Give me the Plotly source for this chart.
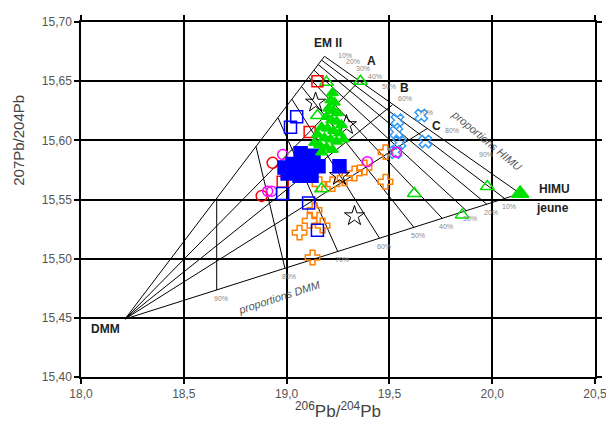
import plotly.graph_objects as go

# ---------------- axes ----------------
x_ticks = [18.0, 18.5, 19.0, 19.5, 20.0, 20.5]
x_ticktext = ["18,0", "18,5", "19,0", "19,5", "20,0", "20,5"]
y_ticks = [15.40, 15.45, 15.50, 15.55, 15.60, 15.65, 15.70]
y_ticktext = ["15,40", "15,45", "15,50", "15,55", "15,60", "15,65", "15,70"]

# ---------------- end members ----------------
em_x = [18.214, 19.184, 20.136]   # DMM, EM II, HIMU jeune
em_y = [15.449, 15.671, 15.555]

# lines of constant DMM proportion (10% .. 90%)
dmm_pct = ["10%", "20%", "30%", "40%", "50%", "60%", "70%", "80%", "90%"]
dmm_left_x = [19.170, 19.154, 19.133, 19.107, 19.073, 19.026, 18.958, 18.851, 18.660]
dmm_left_y = [15.6678, 15.6640, 15.6593, 15.6533, 15.6454, 15.6347, 15.6192, 15.5948, 15.5511]
dmm_bot_x = [20.061, 19.974, 19.874, 19.757, 19.619, 19.452, 19.249, 18.992, 18.660]
dmm_bot_y = [15.5508, 15.5460, 15.5406, 15.5341, 15.5265, 15.5173, 15.5060, 15.4918, 15.4735]

# HIMU proportion marks on EM II - HIMU binary
himu_pct = ["10%", "20%", "30%", "40%", "50%", "60%", "70%", "80%", "90%"]
himu_x = [19.220, 19.262, 19.310, 19.367, 19.434, 19.515, 19.616, 19.743, 19.908]
himu_y = [15.6666, 15.6615, 15.6557, 15.6488, 15.6406, 15.6307, 15.6185, 15.6030, 15.5827]

# mixtures A, B, C (end of DMM mixing lines) and their label positions
abc_names = ["A", "B", "C"]
abc_x = [19.354, 19.515, 19.684]
abc_y = [15.650, 15.630, 15.610]
abc_lab_x = [19.413, 19.573, 19.728]
abc_lab_y = [15.667, 15.644, 15.612]

# ---------------- samples ----------------
green_fill_x = [19.223, 19.214, 19.233, 19.204, 19.228, 19.248, 19.194, 19.218, 19.243, 19.267,
                19.170, 19.199, 19.228, 19.257, 19.150, 19.184, 19.214, 19.243, 19.277, 19.160,
                19.194, 19.223, 19.170, 19.136]
green_fill_y = [15.640, 15.634, 15.632, 15.627, 15.625, 15.623, 15.620, 15.617, 15.616, 15.613,
                15.611, 15.610, 15.608, 15.606, 15.605, 15.602, 15.601, 15.599, 15.601, 15.596,
                15.594, 15.592, 15.590, 15.598]
green_open_x = [19.194, 19.359, 19.150, 19.170, 19.621, 19.976, 19.854]
green_open_y = [15.649, 15.650, 15.621, 15.559, 15.555, 15.561, 15.537]

blue_fill_x = [19.068, 19.131, 19.029, 19.092, 19.155, 19.005, 19.063, 19.121, 19.257, 18.990]
blue_fill_y = [15.589, 15.587, 15.580, 15.578, 15.578, 15.572, 15.570, 15.570, 15.578, 15.577]
blue_open_x = [19.049, 19.019, 18.981, 19.107, 19.150]
blue_open_y = [15.620, 15.611, 15.555, 15.547, 15.524]

red_sq_x = [19.150, 19.112, 18.981]
red_sq_y = [15.650, 15.607, 15.565]
red_circ_x = [18.932, 18.879]
red_circ_y = [15.581, 15.553]

magenta_x = [18.981, 19.393, 18.908, 19.534, 18.927]
magenta_y = [15.588, 15.582, 15.557, 15.590, 15.557]

orange_x = [19.160, 19.223, 19.282, 19.330, 19.379, 19.481, 19.481, 19.136, 19.112, 19.175, 19.063, 19.126]
orange_y = [15.563, 15.563, 15.568, 15.572, 15.577, 15.590, 15.565, 15.541, 15.532, 15.528, 15.522, 15.501]

lightblue_x = [19.539, 19.534, 19.549, 19.529, 19.655, 19.675]
lightblue_y = [15.617, 15.607, 15.598, 15.590, 15.621, 15.599]

star_x = [19.141, 19.291, 19.330, 19.257]
star_y = [15.632, 15.613, 15.536, 15.570]

fig = go.Figure()

# triangle edges + DMM-to-ABC lines + constant-DMM lines
seg_x, seg_y = [], []
for i, j in [(0, 1), (1, 2), (0, 2)]:
    seg_x += [em_x[i], em_x[j], None]
    seg_y += [em_y[i], em_y[j], None]
for k in range(len(abc_x)):
    seg_x += [em_x[0], abc_x[k], None]
    seg_y += [em_y[0], abc_y[k], None]
for k in range(len(dmm_left_x)):
    seg_x += [dmm_left_x[k], dmm_bot_x[k], None]
    seg_y += [dmm_left_y[k], dmm_bot_y[k], None]
fig.add_trace(go.Scatter(x=seg_x, y=seg_y, mode="lines",
                         line=dict(color="black", width=1), hoverinfo="skip"))

def pts(x, y, symbol, color, size, width=1.5):
    fig.add_trace(go.Scatter(x=x, y=y, mode="markers",
                             marker=dict(symbol=symbol, size=size, color=color,
                                         line=dict(color=color, width=width))))

pts(orange_x, orange_y, "cross-open", "#FF7F00", 12)
pts(lightblue_x, lightblue_y, "x-open", "#2E9CFF", 11)
pts(green_open_x, green_open_y, "triangle-up-open", "#00E000", 12)
pts(star_x, star_y, "star-open", "black", 15, 1)
pts(red_sq_x, red_sq_y, "square-open", "#FF0000", 11)
pts(red_circ_x, red_circ_y, "circle-open", "#FF0000", 11)
pts(magenta_x, magenta_y, "circle-open", "#FF00FF", 10)
pts(blue_open_x, blue_open_y, "square-open", "#0000FF", 12)
pts(blue_fill_x, blue_fill_y, "square", "#0000FF", 13)
pts(green_fill_x, green_fill_y, "triangle-up", "#00E000", 10)
pts([em_x[2]], [em_y[2]], "triangle-up", "#00E000", 15)

ann = []
bold = dict(family="Liberation Sans", size=12, color="#222")
ann.append(dict(x=em_x[0], y=em_y[0], text="<b>DMM</b>", showarrow=False, font=bold, xshift=-20, yshift=-10))
ann.append(dict(x=em_x[1], y=em_y[1], text="<b>EM II</b>", showarrow=False, font=bold, xshift=4, yshift=13))
ann.append(dict(x=em_x[2], y=em_y[2], text="<b>HIMU</b>", showarrow=False, font=bold, xshift=34, yshift=5))
ann.append(dict(x=em_x[2], y=em_y[2], text="<b>jeune</b>", showarrow=False, font=bold, xshift=32, yshift=-14))
for k, n in enumerate(abc_names):
    ann.append(dict(x=abc_lab_x[k], y=abc_lab_y[k], text="<b>" + n + "</b>", showarrow=False, font=bold))
small = dict(family="Liberation Sans", size=7, color="#888")
for k, p in enumerate(himu_pct):
    ann.append(dict(x=himu_x[k], y=himu_y[k], text=p, showarrow=False, font=small,
                    xshift=13, yshift=6))
for k, p in enumerate(dmm_pct):
    ann.append(dict(x=dmm_bot_x[k], y=dmm_bot_y[k], text=p, showarrow=False, font=small,
                    xshift=4, yshift=-8))
ann.append(dict(x=18.965, y=15.468, text="<i>proportions DMM</i>", showarrow=False, textangle=-18,
                font=dict(family="Liberation Sans", size=11, color="#555")))
ann.append(dict(x=19.971, y=15.600, text="<i>proportions HIMU</i>", showarrow=False, textangle=40,
                font=dict(family="Liberation Sans", size=11, color="#555")))
ann.append(dict(xref="paper", yref="paper", x=0.5, y=-0.094, yanchor="middle",
                text="<sup>206</sup>Pb/<sup>204</sup>Pb", showarrow=False,
                font=dict(family="Liberation Sans", size=17, color="#444")))
ann.append(dict(xref="paper", yref="paper", x=-0.122, y=0.80, textangle=-90, xanchor="center",
                text="207Pb/204Pb", showarrow=False,
                font=dict(family="Liberation Sans", size=15, color="#444")))

axis_common = dict(showgrid=True, gridcolor="black", gridwidth=1.5, showline=True,
                   linecolor="black", linewidth=1.5, mirror="ticks", ticks="outside",
                   ticklen=5, tickwidth=1.5, tickcolor="black", zeroline=False,
                   tickfont=dict(family="Liberation Sans", size=12, color="#555"))
# page body adds an 8 px offset: figure is 8 px smaller and margins shifted accordingly
fig.update_layout(
    width=606, height=418, margin=dict(l=73, r=18, t=7, b=49),
    plot_bgcolor="white", paper_bgcolor="white", showlegend=False,
    xaxis=dict(range=[18.0, 20.5], tickvals=x_ticks, ticktext=x_ticktext, **axis_common),
    yaxis=dict(range=[15.40, 15.70], tickvals=y_ticks, ticktext=y_ticktext, **axis_common),
    annotations=ann,
)
fig.write_html("out.html")
